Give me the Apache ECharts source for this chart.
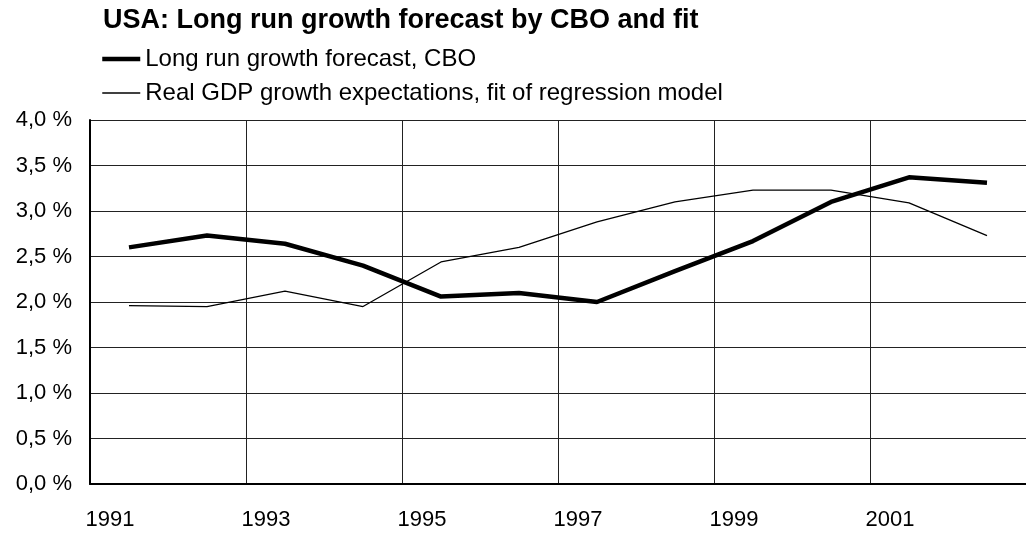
<!DOCTYPE html>
<html>
<head>
<meta charset="utf-8">
<script src="https://cdn.jsdelivr.net/npm/echarts@6/dist/echarts.min.js"></script>
<style>
  html, body { margin: 0; padding: 0; background: #fff; }
  #chart { width: 1026px; height: 538px; }
</style>
</head>
<body>
<div id="chart"></div>
<script>
// years on the x axis
const years = ['1991', '1992', '1993', '1994', '1995', '1996', '1997', '1998', '1999', '2000', '2001', '2002']
// long run growth forecast, CBO (%)
const cboForecast = [2.60, 2.73, 2.64, 2.40, 2.06, 2.10, 2.00, 2.34, 2.67, 3.10, 3.37, 3.31]
// real GDP growth expectations, fit of regression model (%)
const modelFit = [1.96, 1.95, 2.12, 1.95, 2.44, 2.60, 2.88, 3.10, 3.23, 3.23, 3.09, 2.73]

const cboName = 'Long run growth forecast, CBO'
const fitName = 'Real GDP growth expectations, fit of regression model'
const font = 'Liberation Sans, Arial, Helvetica, sans-serif'

const myChart = echarts.init(document.getElementById('chart'))

const option = {
  animation: false,
  backgroundColor: '#fff',
  title: {
    text: 'USA: Long run growth forecast by CBO and fit',
    left: 103,
    top: 7,
    padding: 0,
    textStyle: { fontFamily: font, fontSize: 27, fontWeight: 'bold', color: '#000' }
  },
  legend: {
    orient: 'vertical',
    left: 100,
    top: 47,
    padding: 0,
    itemWidth: 38,
    itemHeight: 14,
    itemGap: 10,
    textStyle: { fontFamily: font, fontSize: 24, color: '#000' },
    data: [
      { name: cboName, lineStyle: { width: 4.5 }, itemStyle: { opacity: 0 } },
      { name: fitName, lineStyle: { width: 1.3 }, itemStyle: { opacity: 0 } }
    ]
  },
  grid: {
    left: 90,
    top: 120,
    bottom: 54,
    width: 939,
    containLabel: false
  },
  xAxis: {
    type: 'category',
    data: years,
    boundaryGap: true,
    axisLine: { lineStyle: { color: '#000', width: 2 } },
    axisTick: { show: false, interval: 1 },
    axisLabel: {
      interval: 1,
      margin: 25,
      padding: [0, 38, 0, 0],
      fontFamily: font,
      fontSize: 22,
      color: '#000'
    },
    splitLine: { show: true, interval: 1, lineStyle: { color: '#222', width: 1 } }
  },
  yAxis: {
    type: 'value',
    min: 0,
    max: 4,
    interval: 0.5,
    axisLine: { show: true, lineStyle: { color: '#000', width: 2 } },
    axisTick: { show: false },
    axisLabel: {
      margin: 18,
      fontFamily: font,
      fontSize: 22,
      color: '#000',
      formatter: v => v.toFixed(1).replace('.', ',') + ' %'
    },
    splitLine: { show: true, lineStyle: { color: '#222', width: 1 } }
  },
  series: [
    {
      name: cboName,
      type: 'line',
      data: cboForecast,
      symbol: 'none',
      z: 3,
      lineStyle: { color: '#000', width: 4.5 },
      itemStyle: { color: '#000' }
    },
    {
      name: fitName,
      type: 'line',
      data: modelFit,
      symbol: 'none',
      z: 2,
      lineStyle: { color: '#000', width: 1.3 },
      itemStyle: { color: '#000' }
    }
  ]
}

myChart.setOption(option)
</script>
</body>
</html>
